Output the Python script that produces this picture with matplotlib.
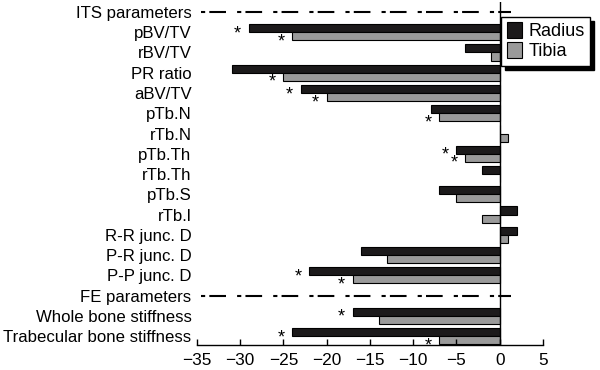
import matplotlib.pyplot as plt
from matplotlib.patches import Patch
import numpy as np

plt.rcParams['font.family'] = ['Liberation Sans', 'DejaVu Sans']
plt.rcParams['lines.scale_dashes'] = False

labels = ["ITS parameters", "pBV/TV", "rBV/TV", "PR ratio", "aBV/TV", "pTb.N",
          "rTb.N", "pTb.Th", "rTb.Th", "pTb.S", "rTb.l", "R-R junc. D",
          "P-R junc. D", "P-P junc. D", "FE parameters", "Whole bone stiffness",
          "Trabecular bone stiffness"]
headers = [0, 14]
radius = [np.nan, -29, -4, -31, -23, -8, 0, -5, -2, -7, 2, 2, -16, -22, np.nan, -17, -24]
tibia = [np.nan, -24, -1, -25, -20, -7, 1, -4, 0, -5, -2, 1, -13, -17, np.nan, -14, -7]
# significance marks
radius_sig = [0, 1, 0, 0, 1, 0, 0, 1, 0, 0, 0, 0, 0, 1, 0, 1, 1]
tibia_sig = [0, 1, 0, 1, 1, 1, 0, 1, 0, 0, 0, 0, 0, 1, 0, 0, 1]

fig = plt.figure(figsize=(6, 3.7), dpi=100)
ax = fig.add_axes([0.3283, 0.0676, 0.905 - 0.3283, 0.995 - 0.0676])

rows = np.arange(len(labels))
off = 0.2
ax.barh(rows - off, radius, height=0.4, color='#1c1a1b', edgecolor='black', lw=0.8)
ax.barh(rows + off, tibia, height=0.4, color='#9a9a9a', edgecolor='black', lw=0.8)

for r in rows:
    if radius_sig[r]:
        ax.text(radius[r] - 1.3, r - off + 0.5, '*', ha='center', va='baseline', fontsize=13)
    if tibia_sig[r]:
        ax.text(tibia[r] - 1.3, r + off + 0.5, '*', ha='center', va='baseline', fontsize=13)

for h in headers:
    ax.plot([-34.5, 1.35], [h, h], color='black', lw=1.5, dashes=(3, 3, 12, 8))

ax.axvline(0, color='black', lw=1)

ax.set_xlim(-35, 5)
ax.set_ylim(16.44, -0.5)
ax.set_yticks(rows)
ax.set_yticklabels(labels, fontsize=12.1)
ax.set_xticks(range(-35, 6, 5))
ax.set_xticklabels([str(v).replace('-', '\u2212') for v in range(-35, 6, 5)], fontsize=12.4)
ax.tick_params(axis='y', length=0, pad=4)
ax.tick_params(axis='x', direction='in', length=4, width=1, pad=6)
for s in ['left', 'top', 'right']:
    ax.spines[s].set_visible(False)
ax.spines['bottom'].set_linewidth(1)

handles = [Patch(facecolor='#1c1a1b', edgecolor='black', lw=0.8),
           Patch(facecolor='#9a9a9a', edgecolor='black', lw=0.8)]
leg = fig.legend(handles, ["Radius", "Tibia"], loc='upper right',
                 bbox_to_anchor=(590 / 600, 1 - 17 / 370), borderaxespad=0,
                 fontsize=13, fancybox=False,
                 shadow={'color': 'black', 'alpha': 1, 'ox': 3, 'oy': -3},
                 edgecolor='black', framealpha=1, handlelength=0.85,
                 handleheight=0.95, handletextpad=0.35, labelspacing=0.1,
                 borderpad=0.3)
leg.get_frame().set_linewidth(1)

fig.savefig('out.png', dpi=100)
